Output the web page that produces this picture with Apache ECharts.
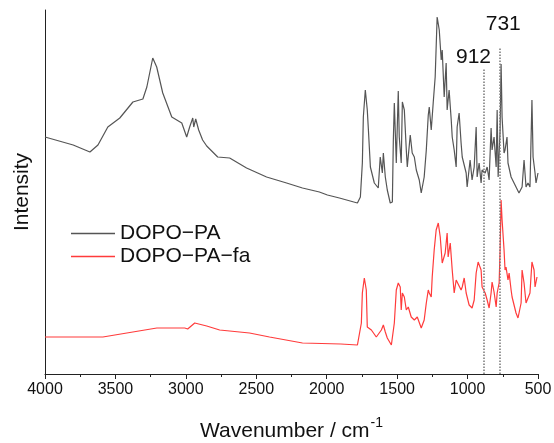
<!DOCTYPE html>
<html>
<head>
<meta charset="utf-8">
<script src="https://cdn.jsdelivr.net/npm/echarts@6/dist/echarts.min.js"></script>
<style>html,body{margin:0;padding:0;background:#fff}#c{width:554px;height:443px}</style>
</head>
<body>
<div id="c"></div>
<script>
var xTicks = [4000, 3500, 3000, 2500, 2000, 1500, 1000, 500];
var seriesNames = ['DOPO\u2212PA', 'DOPO\u2212PA\u2212fa'];
var dopoPA = [[4000,237],[3900,233],[3800,229],[3681,222],[3624,229],[3554,247],[3469,256],[3376,272],[3305,275],[3277,287],[3235,316],[3207,307],[3164,281],[3100,257],[3029,251],[2994,237],[2973,247],[2951,256],[2944,247],[2930,255],[2909,244],[2881,234],[2852,228],[2774,217],[2689,216],[2569,206],[2427,197],[2285,191],[2172,186],[2052,182],[1995,179],[1910,176],[1782,171],[1761,177],[1747,211],[1740,257],[1726,284],[1712,264],[1704,244],[1690,207],[1662,191],[1634,186],[1620,217],[1605,201],[1598,221],[1584,197],[1570,184],[1549,171],[1534,172],[1527,234],[1520,271],[1506,211],[1492,283],[1485,237],[1471,211],[1463,272],[1449,264],[1435,224],[1428,207],[1407,239],[1393,221],[1378,217],[1364,204],[1343,194],[1329,181],[1308,197],[1293,224],[1279,259],[1272,267],[1258,244],[1244,271],[1230,297],[1216,357],[1201,344],[1187,314],[1180,324],[1166,277],[1152,311],[1145,264],[1131,284],[1116,254],[1109,237],[1095,224],[1081,207],[1074,247],[1060,261],[1046,231],[1038,217],[1010,201],[1003,187],[982,214],[968,194],[953,207],[939,247],[932,197],[918,211],[904,191],[897,204],[875,201],[861,207],[847,194],[833,246],[826,224],[812,237],[797,207],[790,264],[783,197],[769,244],[762,310],[755,257],[741,221],[734,224],[720,237],[713,211],[691,197],[670,191],[635,181],[613,187],[599,214],[585,187],[571,191],[557,187],[543,274],[535,217],[521,201],[514,191],[500,201]];
var dopoPAfa = [[4000,37],[3800,37],[3589,37],[3419,41],[3206,46],[3008,46],[2987,45],[2937,51],[2852,48],[2760,44],[2548,41],[2406,37],[2172,31],[1900,30],[1782,29],[1768,30],[1754,51],[1747,81],[1733,96],[1719,84],[1712,47],[1683,44],[1648,37],[1612,44],[1598,49],[1584,42],[1570,36],[1541,29],[1520,51],[1506,84],[1492,91],[1478,87],[1471,64],[1463,81],[1449,77],[1435,64],[1421,67],[1400,57],[1378,54],[1357,57],[1329,46],[1308,54],[1293,71],[1279,84],[1272,81],[1258,77],[1251,97],[1237,124],[1223,144],[1208,151],[1194,137],[1180,111],[1159,121],[1145,141],[1138,117],[1123,131],[1109,104],[1095,81],[1081,94],[1067,96],[1046,84],[1038,87],[1024,96],[1010,81],[989,69],[968,66],[953,74],[939,101],[925,112],[904,104],[897,87],[875,81],[861,74],[847,66],[833,81],[826,92],[812,82],[797,67],[790,81],[776,91],[769,124],[762,174],[755,154],[741,124],[734,104],[727,107],[713,94],[705,101],[691,84],[684,77],[656,61],[642,56],[620,71],[613,104],[599,91],[585,71],[571,72],[557,81],[543,112],[528,104],[521,87],[507,97]];
// marker lines: drawn position on the wavenumber axis, top of line, label text
var markerPos = [887, 775];
var markerTop = [306, 326];
var markerLabels = ['912', '731'];

var FONT = 'Liberation Sans, Arial, sans-serif';
var chart = echarts.init(document.getElementById('c'), null, {renderer: 'canvas'});
var markData = markerPos.map(function (p, i) {
  return [
    {coord: [p, 0]},
    {coord: [p, markerTop[i]], label: {formatter: markerLabels[i], offset: [i === 0 ? -10 : 4, 0], distance: i === 0 ? 0 : 13}}
  ];
});
chart.setOption({
  animation: false,
  backgroundColor: '#fff',
  grid: {left: 45, right: 16, top: 10, bottom: 69, containLabel: false, outerBoundsMode: 'none'},
  legend: {
    orient: 'vertical', left: 66, top: 217, itemWidth: 44, itemHeight: 1.3, itemGap: 0, itemTextGap: 5,
    icon: 'rect',
    textStyle: {fontFamily: FONT, fontSize: 21, color: '#111', lineHeight: 23},
    data: seriesNames
  },
  xAxis: {
    type: 'value', min: 500, max: 4000, interval: 500, inverse: true,
    name: '{a|Wavenumber / cm}{b|-1}', nameLocation: 'middle', nameGap: 42,
    nameTextStyle: {fontFamily: FONT, color: '#111', rich: {
      a: {fontFamily: FONT, fontSize: 21, color: '#111', lineHeight: 26, verticalAlign: 'bottom'},
      b: {fontFamily: FONT, fontSize: 14, color: '#111', lineHeight: 26, verticalAlign: 'top', padding: [0, 0, 8, 1]}
    }},
    axisLine: {show: true, onZero: false, lineStyle: {color: '#222', width: 1}},
    axisTick: {show: true, length: 5, lineStyle: {color: '#222'}},
    minorTick: {show: true, splitNumber: 2, length: 3, lineStyle: {color: '#222'}},
    axisLabel: {fontFamily: FONT, fontSize: 16, color: '#111', margin: 8,
      formatter: function (v) { return xTicks.indexOf(v) >= 0 ? String(v) : ''; }},
    splitLine: {show: false}
  },
  yAxis: {
    type: 'value', min: 0, max: 364,
    name: 'Intensity', nameLocation: 'middle', nameGap: 12,
    nameTextStyle: {fontFamily: FONT, fontSize: 21, color: '#111'},
    axisLine: {show: true, lineStyle: {color: '#222', width: 1}},
    axisTick: {show: false}, axisLabel: {show: false}, splitLine: {show: false}
  },
  series: [
    {
      name: seriesNames[0], type: 'line', data: dopoPA, symbol: 'none', smooth: false,
      lineStyle: {color: '#555', width: 1.2}, itemStyle: {color: '#555'}
    },
    {
      name: seriesNames[1], type: 'line', data: dopoPAfa, symbol: 'none', smooth: false,
      lineStyle: {color: '#ff3b3b', width: 1.2}, itemStyle: {color: '#ff3b3b'},
      markLine: {
        silent: true, symbol: 'none', animation: false,
        lineStyle: {color: '#777', type: 'dotted', width: 1.5},
        label: {show: true, position: 'end', fontFamily: FONT, fontSize: 21, color: '#111'},
        data: markData
      }
    }
  ]
});
</script>
</body>
</html>
